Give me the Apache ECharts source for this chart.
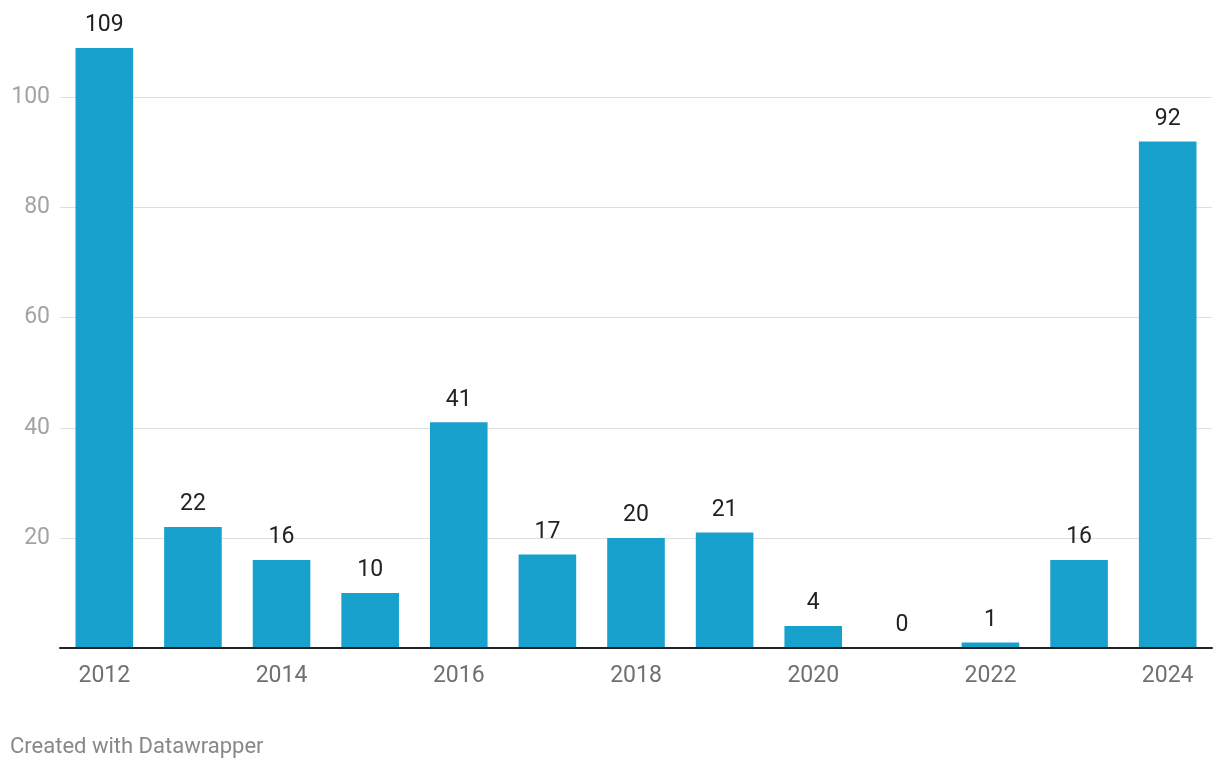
<!DOCTYPE html>
<html>
<head>
<meta charset="utf-8">
<script src="https://cdn.jsdelivr.net/npm/echarts@6/dist/echarts.min.js"></script>
<style>
html,body{margin:0;padding:0;background:#fff;}
#chart{width:1220px;height:770px;}
</style>
</head>
<body>
<div id="chart"></div>
<script>
const years = ['2012','2013','2014','2015','2016','2017','2018','2019','2020','2021','2022','2023','2024'];
const values = [109, 22, 16, 10, 41, 17, 20, 21, 4, 0, 1, 16, 92];
const yTicks = [0, 20, 40, 60, 80, 100];

const yMax = Math.max(...values);
const chart = echarts.init(document.getElementById('chart'));
chart.setOption({
  animation: false,
  backgroundColor: '#ffffff',
  textStyle: { fontFamily: 'Roboto' },
  grid: { left: 60, right: 8, top: 48, bottom: 122, containLabel: false },
  xAxis: {
    type: 'category',
    data: years,
    boundaryGap: true,
    axisLine: { show: true, lineStyle: { color: '#222222', width: 2 } },
    axisTick: { show: false },
    axisLabel: { interval: 1, color: '#707070', fontSize: 23, margin: 17, fontFamily: 'Roboto' },
    z: 5
  },
  yAxis: {
    type: 'value',
    min: 0,
    max: yMax,
    interval: yTicks[1] - yTicks[0],
    axisLine: { show: false },
    axisTick: { show: false },
    axisLabel: {
      color: '#a3a3a3', fontSize: 23, margin: 10, fontFamily: 'Roboto',
      showMinLabel: false,
      formatter: function (v) { return yTicks.indexOf(v) > 0 ? String(v) : ''; }
    },
    splitLine: {
      show: true,
      lineStyle: {
        color: yTicks.map((t, i) => i === 0 ? 'rgba(0,0,0,0)' : '#dedede').concat(['rgba(0,0,0,0)']),
        width: 1
      }
    }
  },
  series: [{
    type: 'bar',
    data: values,
    barWidth: '65%',
    itemStyle: { color: '#19a1cd' },
    label: {
      show: true,
      position: 'top',
      distance: 11,
      color: '#222222',
      fontSize: 23,
      fontFamily: 'Roboto'
    }
  }],
  graphic: [{
    type: 'text',
    left: 10,
    top: 736,
    style: { text: 'Created with Datawrapper', fill: '#888888', font: '22px Roboto' }
  }]
});
</script>
</body>
</html>
